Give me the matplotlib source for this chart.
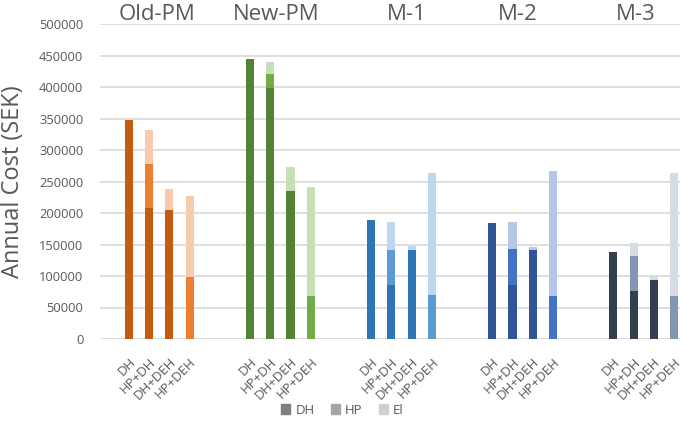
import numpy as np
import matplotlib
matplotlib.use('Agg')
import matplotlib.pyplot as plt
import matplotlib.transforms as mtrans
from matplotlib.patches import Patch

plt.rcParams['font.family'] = ['Open Sans', 'DejaVu Sans']

groups = ['Old-PM', 'New-PM', 'M-1', 'M-2', 'M-3']
cases = ['DH', 'HP+DH', 'DH+DEH', 'HP+DEH']

# stacked segments per group, one value per case
dh = [[347000, 208000, 205000, 0],
      [444000, 399000, 235000, 0],
      [189000, 85000, 141000, 0],
      [184000, 86000, 141000, 0],
      [137500, 76000, 93000, 0]]
hp = [[0, 69000, 0, 99000],
      [0, 21000, 0, 68000],
      [0, 56000, 0, 70000],
      [0, 57000, 0, 69000],
      [0, 56000, 0, 69000]]
el = [[0, 54000, 33000, 128000],
      [0, 20000, 38000, 173000],
      [0, 45000, 7000, 194000],
      [0, 42000, 5000, 198000],
      [0, 20000, 8000, 195000]]

dh_col = ['#C55A11', '#548235', '#2E75B6', '#2F5597', '#333F50']
hp_col = ['#ED7D31', '#70AD47', '#5B9BD5', '#4472C4', '#8497B0']
el_col = ['#F8CBAD', '#C5E0B4', '#BDD7EE', '#B4C7E7', '#D6DCE5']

fig = plt.figure(figsize=(6.85, 4.21), dpi=100)
ax = fig.add_axes([100/685, 1-339/421, 580/685, 315/421])

ticks = []
labels = []
for g in range(len(groups)):
    x = np.arange(4) + g*6
    d = np.array(dh[g])
    h = np.array(hp[g])
    e = np.array(el[g])
    ax.bar(x, d, width=0.4, color=dh_col[g], zorder=3)
    ax.bar(x, h, width=0.4, bottom=d, color=hp_col[g], zorder=3)
    ax.bar(x, e, width=0.4, bottom=d+h, color=el_col[g], zorder=3)
    ticks += list(x)
    labels += cases

# group titles (text boxes, not exactly centred on groups)
title_x = [1.39, 7.28, 13.76, 19.26, 25.1]
for g in range(len(groups)):
    ax.text(title_x[g], 1.03, groups[g], transform=ax.get_xaxis_transform(),
            ha='center', va='center', fontsize=16, color='#595959')

ax.set_xlim(-1.44, 27.3)
ax.set_ylim(0, 500000)
ax.set_yticks(np.arange(0, 500001, 50000))
ax.set_xticks(ticks)
ax.set_xticklabels(labels, rotation=45, ha='right', rotation_mode='anchor',
                   fontsize=9.5, color='#595959')
off = mtrans.ScaledTranslation(-2/100, 0, fig.dpi_scale_trans)
for t in ax.get_xticklabels():
    t.set_transform(t.get_transform() + off)
ax.tick_params(axis='x', length=0, pad=12)
ax.tick_params(axis='y', length=0, labelsize=9.3, labelcolor='#595959', pad=12)
ax.yaxis.grid(True, color='#D9D9D9', linewidth=1.2, zorder=0)
for s in ax.spines.values():
    s.set_visible(False)
ax.set_ylabel('Annual Cost (SEK)', fontsize=17, color='#595959')
ax.yaxis.set_label_coords(-0.13, 0.5)

handles = [Patch(color='#7F7F7F', label='DH'),
           Patch(color='#A5A5A5', label='HP'),
           Patch(color='#D0D0D0', label='El')]
fig.legend(handles=handles, loc='lower center', bbox_to_anchor=(0.5, -0.018),
           ncol=3, frameon=False, fontsize=9.5, handlelength=0.7,
           handleheight=0.7, handletextpad=0.4, columnspacing=1.2,
           labelcolor='#595959')

fig.savefig('out.png', dpi=100)
